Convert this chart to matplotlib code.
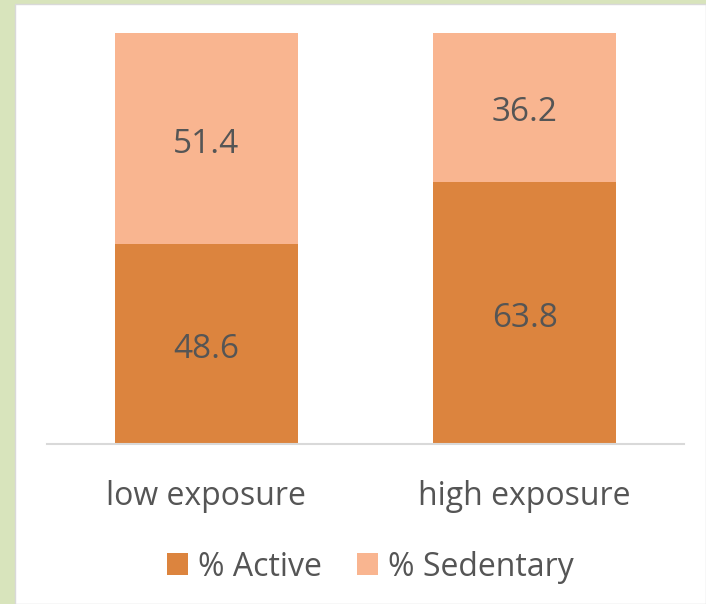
import matplotlib
matplotlib.use("Agg")
import matplotlib.pyplot as plt
from matplotlib.patches import Rectangle

categories = ["low exposure", "high exposure"]
active = [48.6, 63.8]
sedentary = [51.4, 36.2]
series_names = ["% Active", "% Sedentary"]

c_active = "#DC843E"
c_sed = "#F9B590"
text_c = "#555555"
font = ["Open Sans", "DejaVu Sans"]

fig = plt.figure(figsize=(7.06, 6.04), dpi=100)
fig.patch.set_facecolor("#D8E4BC")
# white panel
fig.add_artist(Rectangle((15 / 706, 0), 1 - 15 / 706, 1 - 4 / 604,
                         transform=fig.transFigure, facecolor="white",
                         edgecolor="#D9D9D9", linewidth=1.0, zorder=0))

ax = fig.add_axes([47 / 706, 160 / 604, 637 / 706, 411 / 604])
ax.set_facecolor("none")
x = list(range(len(categories)))
w = 0.574
b1 = ax.bar(x, active, width=w, color=c_active, label=series_names[0], zorder=2)
b2 = ax.bar(x, sedentary, width=w, bottom=active, color=c_sed,
            label=series_names[1], zorder=2)

for xi, a, s in zip(x, active, sedentary):
    for yc, v in ((a / 2, a), (a + s / 2, s)):
        ax.annotate(f"{v:.1f}", (xi, yc), xytext=(0, -4),
                    textcoords="offset points", ha="center", va="center",
                    fontsize=24, color=text_c, family=font)

ax.set_xlim(-0.5, 1.5)
ax.set_ylim(0, 100)
ax.set_yticks([])
ax.set_xticks(x)
ax.set_xticklabels(categories, fontsize=23, color=text_c, family=font)
ax.tick_params(axis="x", length=0, pad=26)
for sp in ["top", "right", "left"]:
    ax.spines[sp].set_visible(False)
ax.spines["bottom"].set_color("#D9D9D9")
ax.spines["bottom"].set_linewidth(1.5)

leg = fig.legend(handles=[b1, b2], labels=series_names, loc="center",
                 bbox_to_anchor=(370 / 706, 1 - 567 / 604), ncol=2,
                 frameon=False, handlelength=0.67, handleheight=0.67,
                 handletextpad=0.3, columnspacing=1.1,
                 prop={"family": font, "size": 23})
for t in leg.get_texts():
    t.set_color(text_c)

fig.savefig("out.png", dpi=100, facecolor=fig.get_facecolor())
